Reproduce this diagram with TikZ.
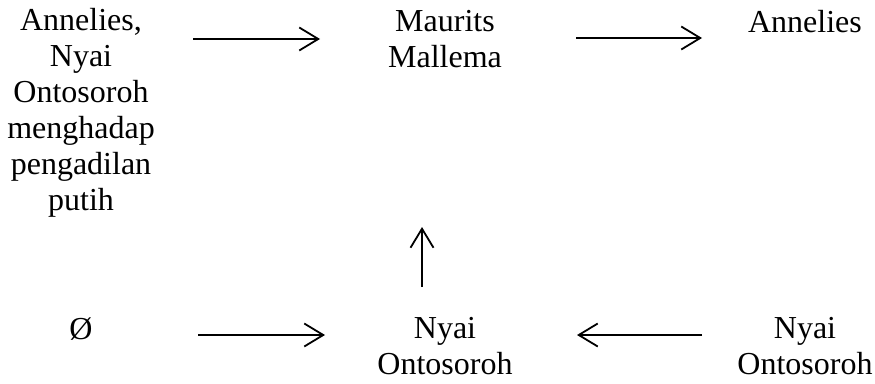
\documentclass[tikz,border=0pt]{standalone}
\usepackage{fontspec}
\setmainfont{Liberation Serif}
\usetikzlibrary{arrows.meta}
\tikzset{
  lbl/.style={inner sep=0pt, align=center, font=\fontsize{32}{36}\selectfont},
  arr/.style={line width=1.8pt, -{Straight Barb[length=19pt, width=23pt, line width=1.8pt]}}
}
\begin{document}
\begin{tikzpicture}[x=1pt, y=-1pt]
\useasboundingbox (0,0) rectangle (875,383);
\node[lbl, anchor=north] (tl) at (81,8) {Annelies,\\Nyai\\Ontosoroh\\menghadap\\pengadilan\\putih};
\node[lbl, anchor=north] (mm) at (445,10) {Maurits\\Mallema};
\node[lbl, anchor=north] (ar) at (805,10) {Annelies};
\node[lbl, anchor=base] (em) at (81,339) {Ø};
\node[lbl, anchor=north] (no) at (445,317) {Nyai\\Ontosoroh};
\node[lbl, anchor=north] (nr) at (805,317) {Nyai\\Ontosoroh};
\coordinate (a1s) at (193,39);
\coordinate (a1e) at (320,39);
\coordinate (a2s) at (576,38);
\coordinate (a2e) at (702,38);
\coordinate (a3s) at (422,287);
\coordinate (a3e) at (422,227);
\coordinate (a4s) at (198,335);
\coordinate (a4e) at (325,335);
\coordinate (a5s) at (702,335);
\coordinate (a5e) at (577,335);
\draw[arr] (a1s) -- (a1e);
\draw[arr] (a2s) -- (a2e);
\draw[arr] (a3s) -- (a3e);
\draw[arr] (a4s) -- (a4e);
\draw[arr] (a5s) -- (a5e);
\end{tikzpicture}
\end{document}
